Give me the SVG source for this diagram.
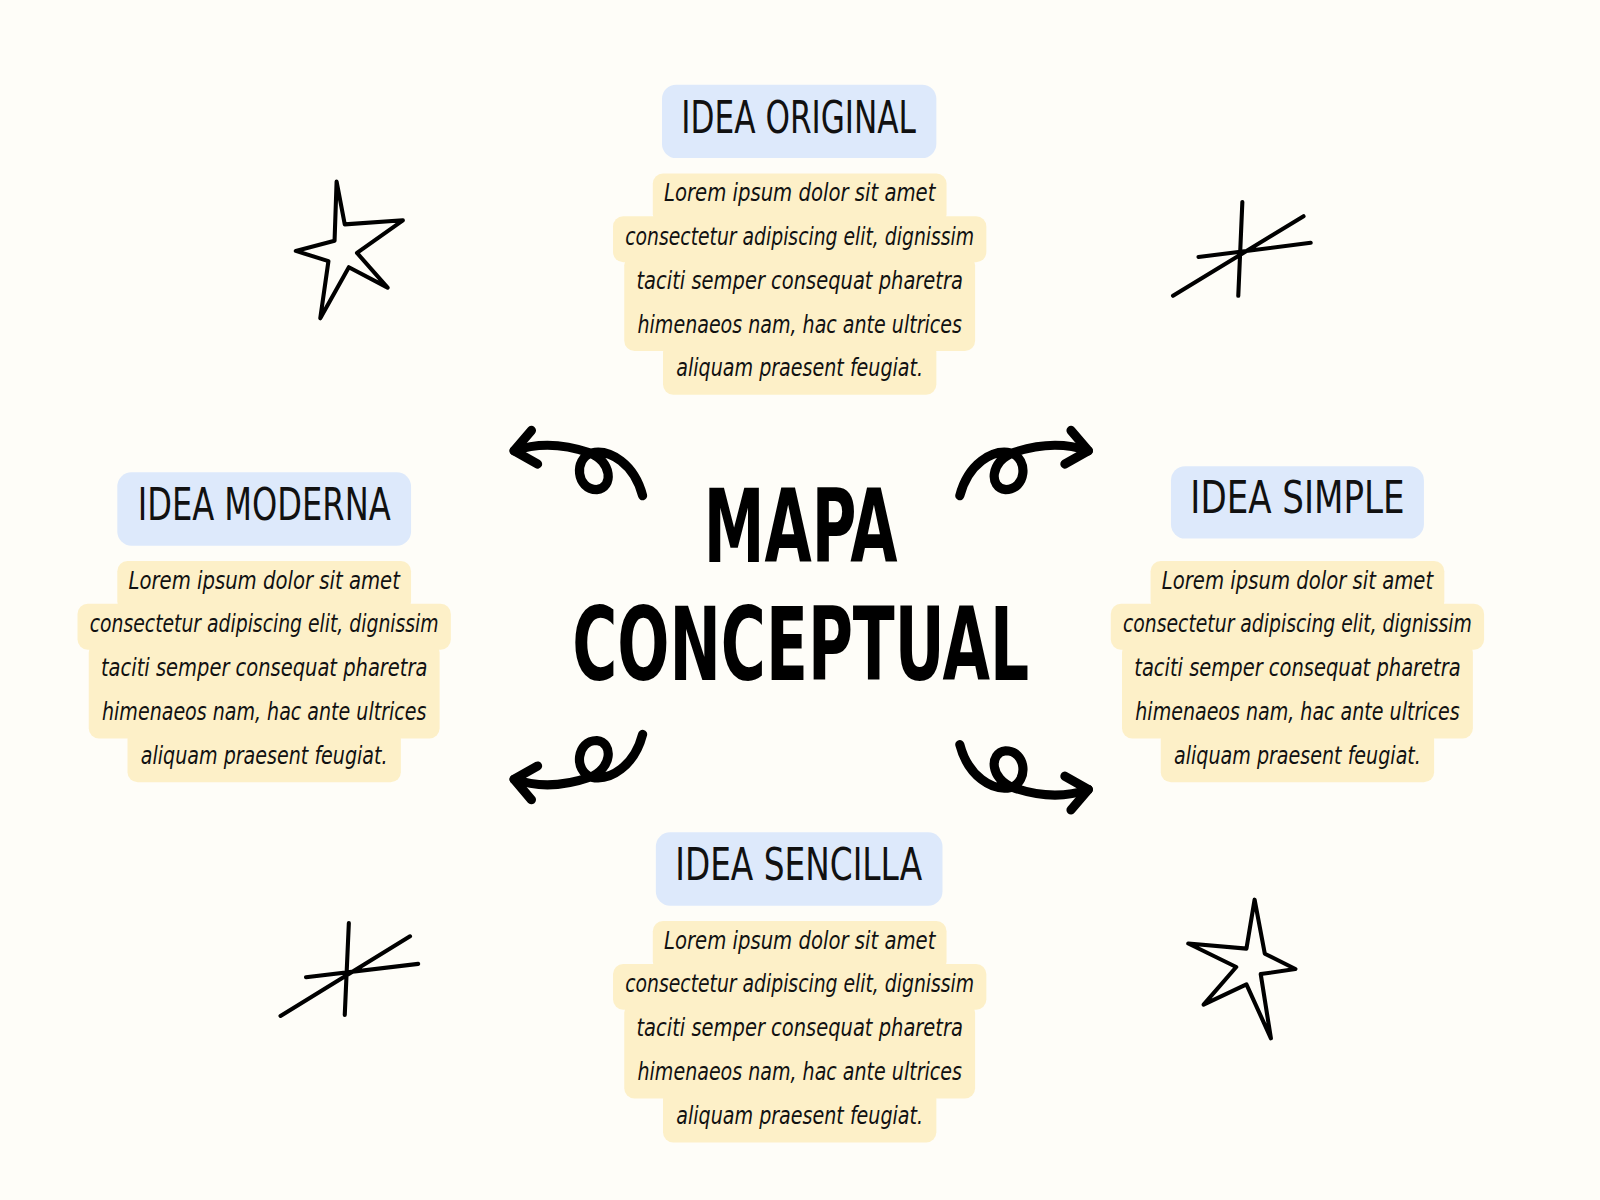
<svg xmlns="http://www.w3.org/2000/svg" width="1600" height="1200" viewBox="0 0 1600 1200">
<style>
.hd{fill:#dde9fb}
.bx{fill:#fdf0c8}
.ht{font-family:"Liberation Sans Narrow","DejaVu Sans Condensed",sans-serif;font-size:44px;fill:#111;text-anchor:middle}
.bt{font-family:"Liberation Sans Narrow","DejaVu Sans Condensed",sans-serif;font-style:italic;font-size:25px;fill:#111;text-anchor:middle}
.tt{font-family:"Liberation Sans Narrow","DejaVu Sans Condensed",sans-serif;font-weight:bold;font-size:100px;fill:#000;text-anchor:middle}
.ar{fill:none;stroke:#000;stroke-width:9;stroke-linecap:round;stroke-linejoin:round}
.st{fill:none;stroke:#000;stroke-width:4;stroke-linecap:round;stroke-linejoin:round}
</style>
<defs>
<g id="txt">
<rect class="bx" x="-144" y="0" width="288" height="50" rx="10"/>
<rect class="bx" x="-183" y="42" width="366" height="45" rx="10"/>
<rect class="bx" x="-172" y="80" width="344" height="94" rx="10"/>
<rect class="bx" x="-134" y="165" width="268" height="52" rx="10"/>
<text class="bt" x="0" y="27" textLength="266" lengthAdjust="spacingAndGlyphs">Lorem ipsum dolor sit amet</text>
<text class="bt" x="0" y="70" textLength="342" lengthAdjust="spacingAndGlyphs">consectetur adipiscing elit, dignissim</text>
<text class="bt" x="0" y="113" textLength="320" lengthAdjust="spacingAndGlyphs">taciti semper consequat pharetra</text>
<text class="bt" x="0" y="156" textLength="318" lengthAdjust="spacingAndGlyphs">himenaeos nam, hac ante ultrices</text>
<text class="bt" x="0" y="199" textLength="242" lengthAdjust="spacingAndGlyphs">aliquam praesent feugiat.</text>
</g>
<g id="arrow">
<path class="ar" d="M630,486 C622,455 598,440 580,444 C562,450 565,480 585,480 C602,478 600,452 578,444 C555,436 530,433 504,442"/>
<path class="ar" d="M521,422 L504,442 L527,455"/>
</g>
</defs>
<rect width="1600" height="1200" fill="#fefdf8"/>
<g transform="scale(1.02)">
<g id="title">
<text class="tt" x="785" y="551" textLength="190" lengthAdjust="spacingAndGlyphs">MAPA</text>
<text class="tt" x="785" y="667" textLength="448" lengthAdjust="spacingAndGlyphs">CONCEPTUAL</text>
</g>
<g id="node-top">
<rect class="hd" x="649" y="83" width="269" height="72" rx="14"/>
<text class="ht" x="783" y="130" textLength="230" lengthAdjust="spacingAndGlyphs">IDEA ORIGINAL</text>
<use href="#txt" x="784" y="170"/>
</g>
<g id="node-left">
<rect class="hd" x="115" y="463" width="288" height="72" rx="14"/>
<text class="ht" x="259" y="510" textLength="248" lengthAdjust="spacingAndGlyphs">IDEA MODERNA</text>
<use href="#txt" x="259" y="550"/>
</g>
<g id="node-right">
<rect class="hd" x="1148" y="457" width="248" height="71" rx="14"/>
<text class="ht" x="1272" y="503" textLength="210" lengthAdjust="spacingAndGlyphs">IDEA SIMPLE</text>
<use href="#txt" x="1272" y="550"/>
</g>
<g id="node-bottom">
<rect class="hd" x="643" y="816" width="281" height="72" rx="14"/>
<text class="ht" x="783" y="863" textLength="242" lengthAdjust="spacingAndGlyphs">IDEA SENCILLA</text>
<use href="#txt" x="784" y="903"/>
</g>
<g id="connectors">
<use href="#arrow"/>
<use href="#arrow" transform="translate(1571,0) scale(-1,1)"/>
<use href="#arrow" transform="translate(0,1206) scale(1,-1)"/>
<use href="#arrow" transform="translate(1571,1216) scale(-1,-1)"/>
</g>
<g id="decor">
<path class="st" d="M330,178 L338,220 L395,216 L350,248 L380,282 L342,262 L314,312 L322,256 L290,246 L328,236 Z"/>
<path class="st" d="M1230,882 L1240,935 L1270,950 L1236,955 L1246,1018 L1222,965 L1180,985 L1212,948 L1165,925 L1222,930 Z"/>
<path class="st" d="M1218,198 L1214,290 M1150,290 L1278,212 M1175,252 L1285,238"/>
<path class="st" d="M342,905 L338,995 M275,996 L402,918 M300,958 L410,945"/>
</g>
</g>
</svg>
